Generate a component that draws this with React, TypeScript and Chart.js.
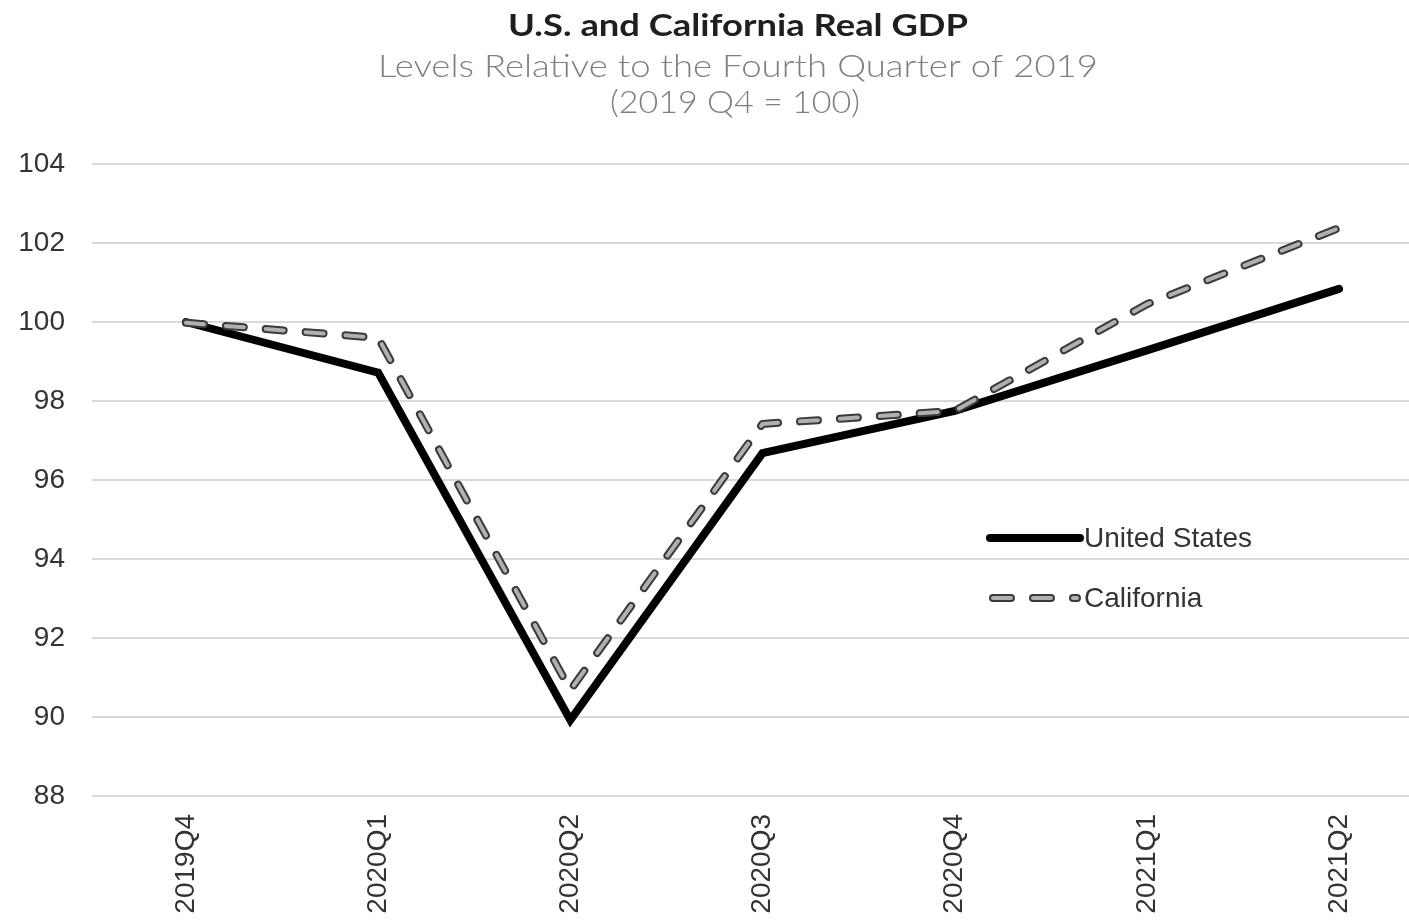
import React, { useEffect, useRef } from 'react';
import { Chart, registerables } from 'chart.js';

Chart.register(...registerables);

const categories = ['2019Q4', '2020Q1', '2020Q2', '2020Q3', '2020Q4', '2021Q1', '2021Q2'];
const usValues = [100, 98.72, 89.92, 96.68, 97.75, 99.28, 100.84];
const caValues = [99.98, 99.6, 90.68, 97.42, 97.75, 100.45, 102.38];
const yMin = 88;
const yMax = 104;
const yStep = 2;
const seriesNames = ['United States', 'California'];
const titleText = 'U.S. and California Real GDP';
const subtitleLines = ['Levels Relative to the Fourth Quarter of 2019', '(2019 Q4 = 100)'];

const TEXT = '#333333';
const CA_DASH = [18, 22];

function drawFitted(ctx: any, text: string, cx: number, cy: number, width: number) {
  const w = ctx.measureText(text).width;
  const sx = width / w;
  ctx.save();
  ctx.translate(cx, cy);
  ctx.scale(sx, 1);
  ctx.textAlign = 'center';
  ctx.textBaseline = 'middle';
  ctx.fillText(text, 0, 0);
  ctx.restore();
}

const titlePlugin = {
  id: 'customTitles',
  afterDraw(chart: any) {
    const ctx = chart.ctx;
    ctx.save();
    ctx.fillStyle = '#1f1f1f';
    ctx.font = 'bold 30px Lato, "DejaVu Sans", sans-serif';
    drawFitted(ctx, titleText, 738, 26, 460);
    ctx.fillStyle = '#7f7f7f';
    ctx.font = '300 31px Lato, "DejaVu Sans", sans-serif';
    drawFitted(ctx, subtitleLines[0], 738, 67, 720);
    drawFitted(ctx, subtitleLines[1], 735, 103, 250);
    ctx.restore();
  },
};

const legendPlugin = {
  id: 'customLegend',
  afterDraw(chart: any) {
    const ctx = chart.ctx;
    ctx.save();
    ctx.lineCap = 'round';
    ctx.strokeStyle = '#000000';
    ctx.lineWidth = 8;
    ctx.beginPath();
    ctx.moveTo(990, 538);
    ctx.lineTo(1080, 538);
    ctx.stroke();
    ctx.setLineDash(CA_DASH);
    ctx.strokeStyle = '#3a3a3a';
    ctx.lineWidth = 8;
    ctx.beginPath();
    ctx.moveTo(993, 598);
    ctx.lineTo(1077, 598);
    ctx.stroke();
    ctx.strokeStyle = '#b0b0b0';
    ctx.lineWidth = 4;
    ctx.beginPath();
    ctx.moveTo(993, 598);
    ctx.lineTo(1077, 598);
    ctx.stroke();
    ctx.setLineDash([]);
    ctx.fillStyle = TEXT;
    ctx.font = '28px "Liberation Sans", Arial, sans-serif';
    ctx.textAlign = 'left';
    ctx.textBaseline = 'middle';
    ctx.fillText(seriesNames[0], 1084, 539);
    ctx.fillText(seriesNames[1], 1084, 599);
    ctx.restore();
  },
};

export default function App() {
  const canvasRef = useRef<HTMLCanvasElement | null>(null);

  useEffect(() => {
    document.body.style.margin = '0';
    const canvas = canvasRef.current;
    if (!canvas) return;
    const toPoints = (arr: number[]) => arr.map((v, i) => ({ x: i, y: v }));
    const chart = new Chart(canvas, {
      type: 'line',
      data: {
        datasets: [
          {
            label: seriesNames[0],
            data: toPoints(usValues),
            borderColor: '#000000',
            borderWidth: 8,
            borderJoinStyle: 'miter',
            borderCapStyle: 'round',
            pointRadius: 0,
            tension: 0,
            order: 2,
          },
          {
            label: seriesNames[1],
            data: toPoints(caValues),
            borderColor: '#3a3a3a',
            borderWidth: 8,
            borderDash: CA_DASH,
            borderCapStyle: 'round',
            borderJoinStyle: 'round',
            pointRadius: 0,
            tension: 0,
            order: 1,
          },
          {
            label: seriesNames[1] + ' inner',
            data: toPoints(caValues),
            borderColor: '#b0b0b0',
            borderWidth: 4,
            borderDash: CA_DASH,
            borderCapStyle: 'round',
            borderJoinStyle: 'round',
            pointRadius: 0,
            tension: 0,
            order: 0,
          },
        ],
      } as any,
      options: {
        animation: false,
        responsive: false,
        maintainAspectRatio: false,
        layout: { padding: { top: 164, left: 0, right: 0, bottom: 0 } },
        plugins: {
          legend: { display: false },
          title: { display: false },
          tooltip: { enabled: false },
        },
        scales: {
          x: {
            type: 'linear',
            min: -0.489,
            max: 6.364,
            grid: { display: false, drawTicks: false },
            border: { display: false },
            afterBuildTicks: (scale: any) => {
              scale.ticks = categories.map((_, i) => ({ value: i }));
            },
            afterFit: (scale: any) => {
              scale.height = 128;
            },
            ticks: {
              autoSkip: false,
              minRotation: 90,
              maxRotation: 90,
              padding: 18,
              color: TEXT,
              font: { family: '"Liberation Sans", Arial, sans-serif', size: 28 },
              callback: (v: any) => categories[Math.round(Number(v))] ?? '',
            },
          },
          y: {
            min: yMin,
            max: yMax,
            grid: { color: '#d9d9d9', lineWidth: 2, drawTicks: false },
            border: { display: false },
            afterFit: (scale: any) => {
              scale.width = 92;
            },
            ticks: {
              stepSize: yStep,
              padding: 27,
              color: TEXT,
              font: { family: '"Liberation Sans", Arial, sans-serif', size: 28 },
            },
          },
        },
      } as any,
      plugins: [titlePlugin, legendPlugin],
    });
    return () => chart.destroy();
  }, []);

  return (
    <div style={{ width: 1409, height: 924, background: '#ffffff' }}>
      <canvas ref={canvasRef} width={1409} height={924} style={{ display: 'block' }} />
    </div>
  );
}
